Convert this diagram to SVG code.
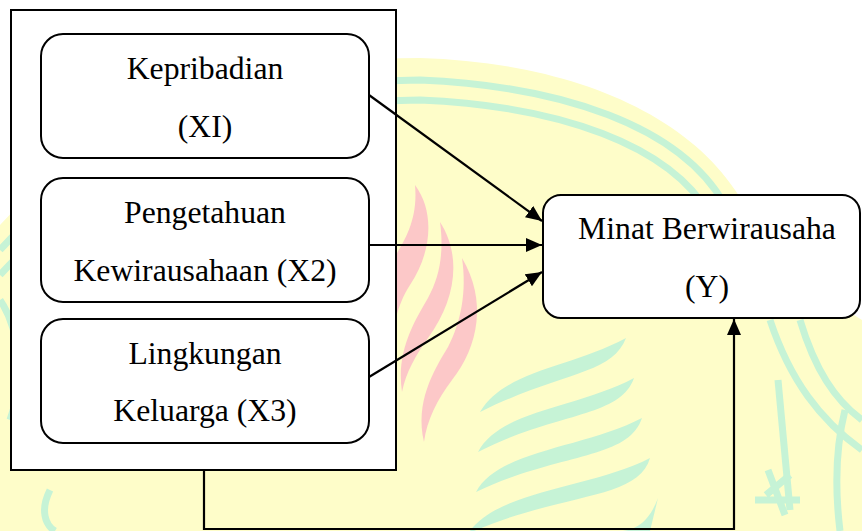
<svg xmlns="http://www.w3.org/2000/svg" width="862" height="531" viewBox="0 0 862 531">
<style>
.box{fill:#fff;stroke:#000;stroke-width:2}
.t{font-family:"Liberation Serif","Times New Roman",serif;font-size:31.7px;fill:#000;text-anchor:middle}
.c{fill:none;stroke:#000;stroke-width:2.2}
.wg{fill:none;stroke:#c6f3d6;stroke-width:7}
.wgf{fill:#c6f3d6}
.wp{fill:#fcc8c8}
</style>
<defs>
<marker id="ah" markerUnits="userSpaceOnUse" markerWidth="18" markerHeight="15" refX="16" refY="7" orient="auto">
<path d="M0,0 L16,7 L0,14 Z" fill="#000"/>
</marker>
</defs>
<rect width="862" height="531" fill="#fff"/>
<g id="watermark">
<path d="M0,225 C90,125 260,58 420,58 C560,62 680,108 735,190 C775,250 820,295 862,320 L862,531 L0,531 Z" fill="#fefdc9"/>
<path class="wg" d="M0,250 C90,150 260,80 420,80 C560,86 680,125 725,205"/>
<path class="wg" d="M0,275 C90,175 260,100 420,100 C560,106 670,145 710,215"/>
<path class="wg" d="M770,320 C790,380 820,420 862,450"/>
<path class="wg" d="M800,320 C815,370 835,400 862,420"/>
<path class="wg" d="M845,410 C835,450 835,490 840,531"/>
<path class="wg" d="M778,380 L790,510"/>
<path class="wg" d="M0,300 C20,330 25,380 10,420"/>
<path class="wg" d="M50,490 C40,510 45,525 55,531"/>
<path class="wp" d="M415,185 C435,212 432,252 410,285 C403,296 399,306 396,318 L396,255 C406,238 418,218 415,185 Z"/>
<path class="wp" d="M440,222 C462,256 456,300 428,338 C416,355 406,372 402,392 C396,352 414,322 428,298 C440,276 444,252 440,222 Z"/>
<path class="wp" d="M462,258 C487,300 479,346 452,380 C437,400 427,420 424,442 C415,402 433,372 448,347 C461,322 467,292 462,258 Z"/>
<path class="wgf" d="M626,338 C612,375 560,372 480,412 C505,370 570,368 626,338 Z"/>
<path class="wgf" d="M634,378 C620,418 555,412 478,452 C500,410 578,408 634,378 Z"/>
<path class="wgf" d="M642,418 C628,460 560,452 476,492 C498,450 585,448 642,418 Z"/>
<path class="wgf" d="M650,458 C638,500 565,492 474,531 L470,531 C500,490 592,488 650,458 Z"/>
<path class="wgf" d="M658,498 C652,515 640,531 620,531 L650,531 Z"/>
<path class="wg" d="M766,495 L790,475 M768,470 L785,515 M755,500 L800,500" stroke-width="5"/>
</g>
<g id="group-x">
<rect class="box" x="11" y="10" width="385" height="460"/>
</g>
<g id="node-x1">
<rect class="box" x="41" y="34" width="328" height="124" rx="22"/>
<text class="t" x="205" y="79">Kepribadian</text>
<text class="t" x="205" y="137">(XI)</text>
</g>
<g id="node-x2">
<rect class="box" x="41" y="178" width="328" height="124" rx="22"/>
<text class="t" x="205" y="223">Pengetahuan</text>
<text class="t" x="205" y="281">Kewirausahaan (X2)</text>
</g>
<g id="node-x3">
<rect class="box" x="41" y="319" width="328" height="124" rx="22"/>
<text class="t" x="205" y="364">Lingkungan</text>
<text class="t" x="205" y="421">Keluarga (X3)</text>
</g>
<g id="node-y">
<rect class="box" x="543" y="195" width="317" height="123" rx="18"/>
<text class="t" x="707" y="239">Minat Berwirausaha</text>
<text class="t" x="707" y="297">(Y)</text>
</g>
<g id="connectors">
<line class="c" x1="369" y1="95" x2="542" y2="221" marker-end="url(#ah)"/>
<line class="c" x1="369" y1="245" x2="542" y2="245" marker-end="url(#ah)"/>
<line class="c" x1="369" y1="377" x2="542" y2="272" marker-end="url(#ah)"/>
<path class="c" d="M204,470 V529 H734 V319" marker-end="url(#ah)"/>
</g>
</svg>
